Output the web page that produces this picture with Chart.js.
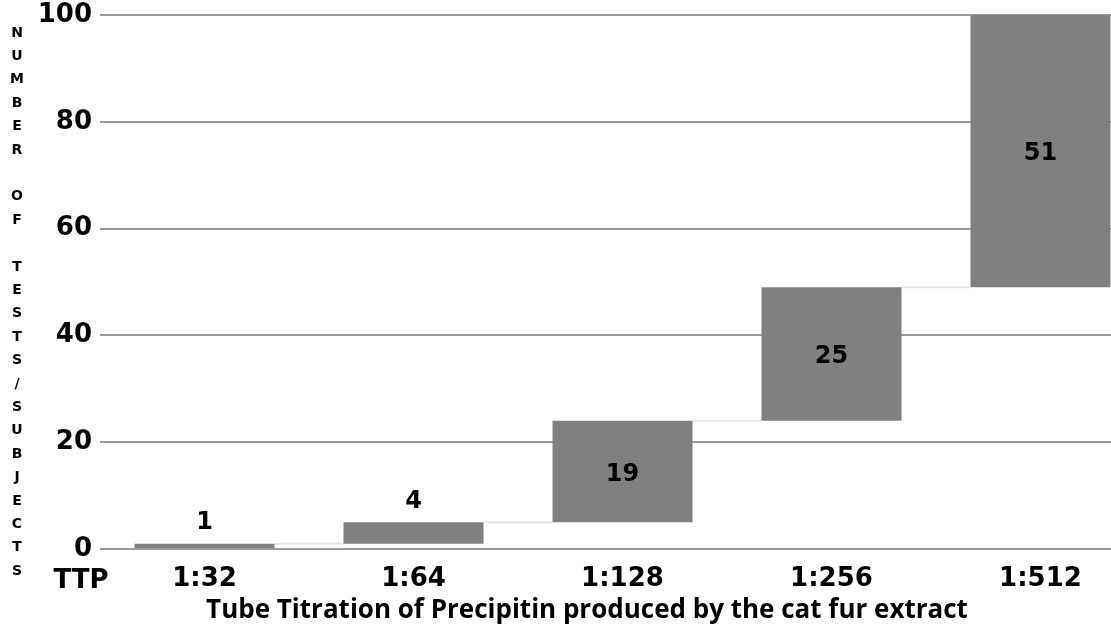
<!DOCTYPE html>
<html>
<head>
<meta charset="utf-8">
<title>Tube Titration of Precipitin</title>
<script src="https://cdn.jsdelivr.net/npm/chart.js@4.4.0/dist/chart.umd.min.js"></script>
<style>
    html, body { margin: 0; padding: 0; background: #fff; overflow: hidden; }
    #wrap { position: relative; width: 1145px; height: 633px; }
</style>
</head>
<body>
<div id="wrap"><canvas id="chart"></canvas></div>
<script>
// Datos
const categories = ['1:32', '1:64', '1:128', '1:256', '1:512'];
const increments = [1, 4, 19, 25, 51];
const yTicks = [0, 20, 40, 60, 80, 100];
const yTitleLetters = ['N', 'U', 'M', 'B', 'E', 'R', '', 'O', 'F', '', 'T', 'E', 'S', 'T', 'S', '/', 'S', 'U', 'B', 'J', 'E', 'C', 'T', 'S'];
const xPrefix = 'TTP';
const xTitle = 'Tube Titration of Precipitin produced by the cat fur extract';

// Barras flotantes (cascada): [inicio, fin]
let running = 0;
const ranges = increments.map(v => {
    const r = [running, running + v];
    running += v;
    return r;
});

const BAR_COLOR = '#808080';
const FONT = '"DejaVu Sans", sans-serif';

// Líneas conectoras tenues entre barras
const connectorPlugin = {
    id: 'connectors',
    beforeDatasetsDraw(chart) {
        const ctx = chart.ctx;
        const bars = chart.getDatasetMeta(0).data;
        const y = chart.scales.y;
        ctx.save();
        ctx.strokeStyle = '#e6e6e6';
        ctx.lineWidth = 2;
        for (let i = 0; i < bars.length - 1; i++) {
            const py = y.getPixelForValue(ranges[i][1]);
            ctx.beginPath();
            ctx.moveTo(bars[i].x + bars[i].width / 2, py);
            ctx.lineTo(bars[i + 1].x - bars[i + 1].width / 2, py);
            ctx.stroke();
        }
        ctx.restore();
    }
};

// Etiquetas de valor en cada barra
const valueLabelPlugin = {
    id: 'valueLabels',
    afterDatasetsDraw(chart) {
        const ctx = chart.ctx;
        const bars = chart.getDatasetMeta(0).data;
        ctx.save();
        ctx.font = 'bold 24px ' + FONT;
        ctx.fillStyle = '#000';
        ctx.textAlign = 'center';
        ctx.textBaseline = 'middle';
        bars.forEach((bar, i) => {
            const top = Math.min(bar.y, bar.base);
            const h = Math.abs(bar.base - bar.y);
            const ly = h < 40 ? top - 21 : top + h / 2 + 3;
            ctx.fillText(String(increments[i]), bar.x, ly);
        });
        ctx.restore();
    }
};

// Título vertical del eje Y (letras apiladas), "TTP" y título del eje X
const sideTextPlugin = {
    id: 'sideText',
    afterDraw(chart) {
        const ctx = chart.ctx;
        ctx.save();
        ctx.fillStyle = '#000';
        ctx.textAlign = 'center';
        ctx.textBaseline = 'middle';
        ctx.font = 'bold 14px ' + FONT;
        yTitleLetters.forEach((ch, i) => {
            if (ch) ctx.fillText(ch, 17, 33 + i * 23.4);
        });
        ctx.font = 'bold 26px ' + FONT;
        ctx.fillText(xPrefix, 81, 581);
        ctx.font = 'bold 26px "Open Sans", sans-serif';
        ctx.fillText(xTitle, 587, 611);
        ctx.restore();
    }
};

const ctx = document.getElementById('chart').getContext('2d');
const chart = new Chart(ctx, {
    type: 'bar',
    data: {
        labels: categories,
        datasets: [{
            label: 'Number of tests/subjects',
            data: ranges,
            backgroundColor: BAR_COLOR,
            borderWidth: 0,
            barPercentage: 0.67,
            categoryPercentage: 1
        }]
    },
    options: {
        responsive: true,
        maintainAspectRatio: false,
        animation: false,
        layout: { padding: { top: 15, right: 0, bottom: 0, left: 0 } },
        plugins: {
            legend: { display: false },
            tooltip: { enabled: false }
        },
        scales: {
            x: {
                grid: { display: false, drawTicks: false },
                border: { display: false },
                ticks: {
                    color: '#000',
                    padding: 15,
                    font: { family: FONT, size: 26, weight: 'bold' }
                },
                afterFit(s) { s.height = 84; s.paddingLeft = 0; s.paddingRight = 0; }
            },
            y: {
                min: 0,
                max: 100,
                grid: { color: '#9a9a9a', lineWidth: 2, drawTicks: false },
                border: { display: false },
                ticks: {
                    stepSize: 20,
                    color: '#000',
                    padding: 8,
                    font: { family: FONT, size: 26, weight: 'bold' },
                    callback: (v) => yTicks.includes(v) ? String(v) : ''
                },
                afterFit(s) { s.width = 100; s.paddingTop = 0; s.paddingBottom = 0; }
            }
        }
    },
    plugins: [connectorPlugin, valueLabelPlugin, sideTextPlugin]
});
</script>
</body>
</html>
